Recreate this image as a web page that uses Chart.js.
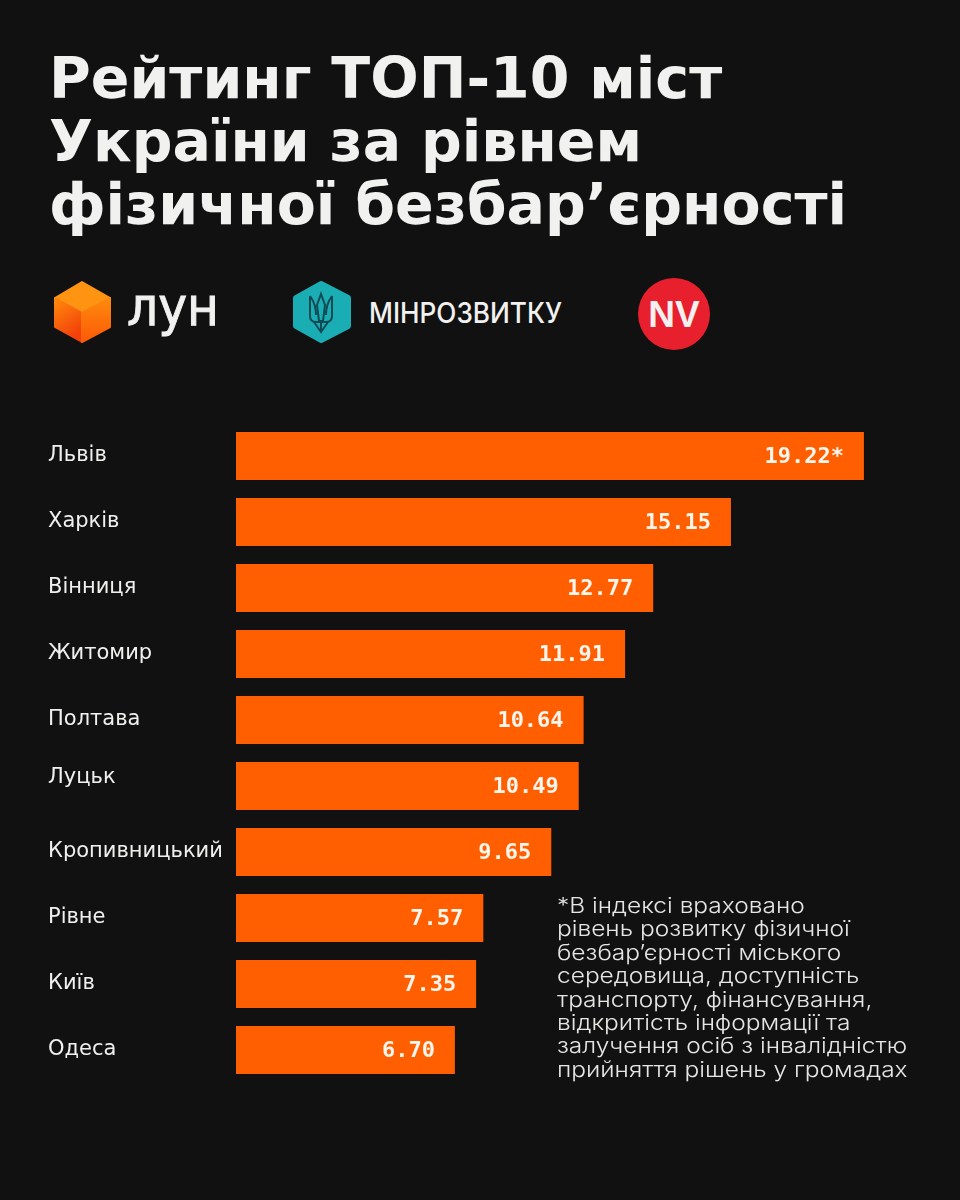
<!DOCTYPE html>
<html lang="uk">
<head>
<meta charset="utf-8">
<title>Рейтинг ТОП-10 міст України</title>
<script src="https://cdn.jsdelivr.net/npm/chart.js@4/dist/chart.umd.min.js"></script>
<style>
  html, body { margin: 0; padding: 0; background: #111111; }
  #page { position: relative; width: 960px; height: 1200px; overflow: hidden; background: #111111; }
  #chart { position: absolute; left: 0; top: 0; }
  h1 {
    position: absolute; left: 49px; top: 47px; margin: 0;
    font: 700 57px/63px "DejaVu Sans", sans-serif;
    color: #f1f1ef; white-space: nowrap;
  }
  #note {
    position: absolute; left: 557px; top: 894px; margin: 0;
    font: 300 21px/23.4px Inter, sans-serif;
    color: #e6e6e4; white-space: nowrap;
    transform: scaleX(1.166); transform-origin: left top;
  }
  #logos { position: absolute; left: 0; top: 270px; }
</style>
</head>
<body>
<div id="page">
  <h1>Рейтинг ТОП-10 міст<br>України за рівнем<br>фізичної безбар’єрності</h1>

  <svg id="logos" width="960" height="90" viewBox="0 270 960 90">
    <defs>
      <linearGradient id="cubeLeft" x1="0" y1="0" x2="0.4" y2="1">
        <stop offset="0" stop-color="#ff8a0c"/><stop offset="1" stop-color="#f2400a"/>
      </linearGradient>
      <linearGradient id="cubeRight" x1="0" y1="0" x2="0" y2="1">
        <stop offset="0" stop-color="#ff8a0c"/><stop offset="1" stop-color="#fb5a08"/>
      </linearGradient>
    </defs>
    <!-- ЛУН cube -->
    <g stroke-width="2" stroke-linejoin="round">
      <polygon points="82,282 110,298 82,313 55,298" fill="#ff9412" stroke="#ff9412"/>
      <polygon points="55,298 82,313 82,342 55,327" fill="url(#cubeLeft)" stroke="url(#cubeLeft)"/>
      <polygon points="82,313 110,298 110,327 82,342" fill="url(#cubeRight)" stroke="url(#cubeRight)"/>
    </g>
    <text x="127" y="325" font-family="DejaVu Sans, sans-serif" font-size="53" textLength="92" lengthAdjust="spacingAndGlyphs" fill="#f1f1ef" stroke="#f1f1ef" stroke-width="1">лун</text>
    <!-- Мінрозвитку badge -->
    <polygon points="321,284 348,298 348,326 321,340 296,326 296,298" fill="#1aaeb4" stroke="#1aaeb4" stroke-width="6" stroke-linejoin="round"/>
    <g fill="none" stroke="#0f4a55" stroke-width="2">
      <path d="M321,294 L325,305 L323,321 H319 L317,305 Z"/>
      <path d="M310,296 V316 Q310,322 316,322 H326 Q332,322 332,316 V296"/>
      <path d="M310,296 Q316,304 316,315"/>
      <path d="M332,296 Q326,304 326,315"/>
      <path d="M314,322 L321,332 L328,322"/>
      <path d="M321,322 V332"/>
    </g>
    <text x="369" y="323" font-family="Inter, sans-serif" font-weight="500" font-size="28" textLength="193" lengthAdjust="spacingAndGlyphs" fill="#f1f1ef">МІНРОЗВИТКУ</text>
    <!-- NV circle -->
    <circle cx="674" cy="314" r="36" fill="#e8202e"/>
    <text x="674" y="327" text-anchor="middle" font-family="Liberation Sans, sans-serif" font-weight="700" font-size="37" fill="#f4f0f0">NV</text>
  </svg>

  <canvas id="chart" width="960" height="1200"></canvas>

  <p id="note">*В індексі враховано<br>рівень розвитку фізичної<br>безбар’єрності міського<br>середовища, доступність<br>транспорту, фінансування,<br>відкритість інформації та<br>залучення осіб з інвалідністю<br>прийняття рішень у громадах</p>
</div>

<script>
const cities = ['Львів', 'Харків', 'Вінниця', 'Житомир', 'Полтава', 'Луцьк', 'Кропивницький', 'Рівне', 'Київ', 'Одеса'];
const scores = [19.22, 15.15, 12.77, 11.91, 10.64, 10.49, 9.65, 7.57, 7.35, 6.70];
const scoreLabels = ['19.22*', '15.15', '12.77', '11.91', '10.64', '10.49', '9.65', '7.57', '7.35', '6.70'];

// writes the score inside the right end of each bar
const barValues = {
  id: 'barValues',
  afterDatasetsDraw(chart) {
    const ctx = chart.ctx;
    ctx.save();
    ctx.font = 'bold 22px "DejaVu Sans Mono", monospace';
    ctx.fillStyle = '#fff6ee';
    ctx.textAlign = 'right';
    ctx.textBaseline = 'middle';
    chart.getDatasetMeta(0).data.forEach((bar, i) => {
      ctx.fillText(scoreLabels[i], bar.x - 20, bar.y + 1.5);
    });
    ctx.restore();
  }
};

new Chart(document.getElementById('chart'), {
  type: 'bar',
  data: {
    labels: cities,
    datasets: [{
      data: scores,
      backgroundColor: '#ff5f00',
      categoryPercentage: 1,
      barPercentage: 48 / 66
    }]
  },
  options: {
    indexAxis: 'y',
    responsive: false,
    animation: false,
    layout: { padding: { left: 48, top: 423, right: 70.6, bottom: 117 } },
    plugins: { legend: { display: false }, tooltip: { enabled: false } },
    scales: {
      x: {
        min: 0,
        max: 20,
        display: false
      },
      y: {
        grid: { display: false },
        border: { display: false },
        afterFit(axis) { axis.width = 188; },
        ticks: {
          color: '#f0f0ee',
          crossAlign: 'far',
          padding: 0,
          // Луцьк sits higher than its bar in the original: an empty second line lifts it
          callback(value, i) { return cities[i] === 'Луцьк' ? [cities[i], ''] : cities[i]; },
          font(ctx) {
            return {
              family: '"DejaVu Sans", sans-serif',
              size: 21,
              lineHeight: cities[ctx.index] === 'Луцьк' ? '16px' : 1.2
            };
          }
        }
      }
    }
  },
  plugins: [barValues]
});
</script>
</body>
</html>
